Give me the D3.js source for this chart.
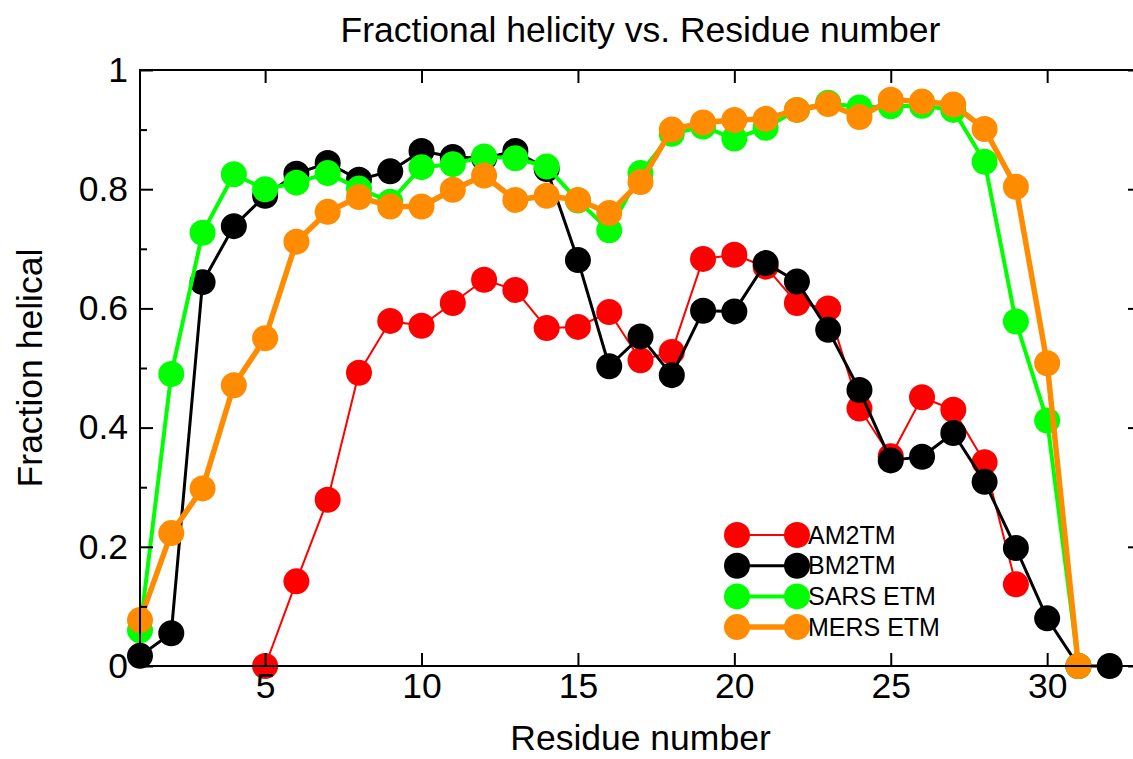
<!DOCTYPE html>
<html>
<head>
<meta charset="utf-8">
<script src="https://cdn.jsdelivr.net/npm/d3@7"></script>
<style>
  body { margin: 0; background: #fff; }
  text { font-family: "Liberation Sans", Arial, Helvetica, sans-serif; fill: #000; }
</style>
</head>
<body>
<div id="chart"></div>
<script>
// data
var am2tmRes = [5,6,7,8,9,10,11,12,13,14,15,16,17,18,19,20,21,22,23,24,25,26,27,28,29];
var am2tm = [0, 0.142, 0.279, 0.492, 0.579, 0.571, 0.609, 0.648, 0.631, 0.567, 0.569, 0.594, 0.513,
  0.527, 0.683, 0.690, 0.670, 0.609, 0.600, 0.432, 0.352, 0.451, 0.430, 0.342, 0.137];

var bm2tmRes = [1,2,3,4,5,6,7,8,9,10,11,12,13,14,15,16,17,18,19,20,21,22,23,24,25,26,27,28,29,30,31,32];
var bm2tm = [0.017, 0.055, 0.644, 0.738, 0.789, 0.826, 0.844, 0.816, 0.830, 0.864, 0.854, 0.852, 0.864,
  0.834, 0.681, 0.503, 0.553, 0.488, 0.596, 0.595, 0.676, 0.645, 0.564, 0.463, 0.345, 0.351, 0.391,
  0.309, 0.198, 0.080, 0, 0];

var sarsRes = [1,2,3,4,5,6,7,8,9,10,11,12,13,14,15,16,17,18,19,20,21,22,23,24,25,26,27,28,29,30,31];
var sars = [0.060, 0.490, 0.727, 0.825, 0.800, 0.811, 0.827, 0.801, 0.779, 0.837, 0.842, 0.855, 0.852,
  0.838, 0.781, 0.731, 0.827, 0.893, 0.905, 0.885, 0.903, 0.933, 0.945, 0.937, 0.939, 0.940, 0.933,
  0.846, 0.578, 0.412, 0];

var mersRes = [1,2,3,4,5,6,7,8,9,10,11,12,13,14,15,16,17,18,19,20,21,22,23,24,25,26,27,28,29,30,31];
var mers = [0.077, 0.223, 0.298, 0.471, 0.550, 0.712, 0.762, 0.787, 0.771, 0.771, 0.799, 0.823, 0.782,
  0.789, 0.782, 0.760, 0.812, 0.900, 0.912, 0.916, 0.918, 0.933, 0.943, 0.921, 0.950, 0.947, 0.942,
  0.901, 0.804, 0.508, 0];

var seriesNames = ["AM2TM", "BM2TM", "SARS ETM", "MERS ETM"];
var seriesColors = ["#ff0000", "#000000", "#00ff00", "#ff8c00"];
var seriesWidths = [2, 3, 4, 5.5];

var xTicks = [5, 10, 15, 20, 25, 30];
var yTicks = [0, 0.2, 0.4, 0.6, 0.8, 1];
var yMinorTicks = [0.1, 0.3, 0.5, 0.7, 0.9];

var series = [
  { res: am2tmRes, val: am2tm },
  { res: bm2tmRes, val: bm2tm },
  { res: sarsRes, val: sars },
  { res: mersRes, val: mers }
];

// dimensions (right edge of the frame falls just outside the picture)
var W = 1133, H = 759;
var plotLeft = 140, plotRight = 1141, plotTop = 70, plotBottom = 666;

var svg = d3.select("#chart")
  .append("svg")
    .attr("width", W)
    .attr("height", H);

var x = d3.scaleLinear().domain([1, 33]).range([plotLeft, plotRight]);
var y = d3.scaleLinear().domain([0, 1]).range([plotBottom, plotTop]);

// lines and points
var line = d3.line()
  .x(function(d) { return x(d[0]); })
  .y(function(d) { return y(d[1]); });

series.forEach(function(s, i) {
  var pts = s.res.map(function(r, j) { return [r, s.val[j]]; });
  var g = svg.append("g");
  g.append("path")
    .datum(pts)
    .attr("d", line)
    .attr("fill", "none")
    .attr("stroke", seriesColors[i])
    .attr("stroke-width", seriesWidths[i])
    .attr("stroke-linejoin", "round");
  g.selectAll("circle")
    .data(pts)
    .enter()
    .append("circle")
      .attr("cx", function(d) { return x(d[0]); })
      .attr("cy", function(d) { return y(d[1]); })
      .attr("r", 13)
      .attr("fill", seriesColors[i]);
});

// axes (ticks inside, mirrored)
var axisFont = "35.5px";

svg.append("g")
  .attr("transform", "translate(0," + plotBottom + ")")
  .call(d3.axisBottom(x).tickValues(xTicks).tickSize(-13).tickFormat(d3.format("d")))
  .call(function(g) {
    g.select(".domain").remove();
    g.selectAll(".tick line").attr("stroke-width", 2);
    g.selectAll("text").style("font-size", axisFont).attr("dy", "0.71em").attr("y", 7);
  });

svg.append("g")
  .attr("transform", "translate(0," + plotTop + ")")
  .call(d3.axisTop(x).tickValues(xTicks).tickSize(-13).tickFormat(""))
  .call(function(g) {
    g.select(".domain").remove();
    g.selectAll(".tick line").attr("stroke-width", 2);
  });

svg.append("g")
  .attr("transform", "translate(" + plotLeft + ",0)")
  .call(d3.axisLeft(y).tickValues(yTicks).tickSize(-13).tickFormat(d3.format("")))
  .call(function(g) {
    g.select(".domain").remove();
    g.selectAll(".tick line").attr("stroke-width", 2);
    g.selectAll("text").style("font-size", axisFont).attr("x", -12);
  });

svg.append("g")
  .attr("transform", "translate(" + plotLeft + ",0)")
  .call(d3.axisLeft(y).tickValues(yMinorTicks).tickSize(-7).tickFormat(""))
  .call(function(g) {
    g.select(".domain").remove();
    g.selectAll(".tick line").attr("stroke-width", 2);
  });

svg.append("g")
  .attr("transform", "translate(" + plotRight + ",0)")
  .call(d3.axisRight(y).tickValues(yTicks).tickSize(-13).tickFormat(""))
  .call(function(g) {
    g.select(".domain").remove();
    g.selectAll(".tick line").attr("stroke-width", 2);
  });

// border
svg.append("rect")
  .attr("x", plotLeft)
  .attr("y", plotTop)
  .attr("width", plotRight - plotLeft)
  .attr("height", plotBottom - plotTop)
  .attr("fill", "none")
  .attr("stroke", "#000")
  .attr("stroke-width", 2);

// titles
svg.append("text")
  .attr("x", (plotLeft + plotRight) / 2)
  .attr("y", 42)
  .attr("text-anchor", "middle")
  .style("font-size", axisFont)
  .text("Fractional helicity vs. Residue number");

svg.append("text")
  .attr("x", (plotLeft + plotRight) / 2)
  .attr("y", 750)
  .attr("text-anchor", "middle")
  .style("font-size", axisFont)
  .text("Residue number");

svg.append("text")
  .attr("transform", "translate(42," + (plotTop + plotBottom) / 2 + ") rotate(-90)")
  .attr("text-anchor", "middle")
  .style("font-size", axisFont)
  .text("Fraction helical");

// legend
var legend = svg.append("g");
seriesNames.forEach(function(name, i) {
  var cy = 535 + i * 30.7;
  legend.append("line")
    .attr("x1", 737).attr("x2", 797)
    .attr("y1", cy).attr("y2", cy)
    .attr("stroke", seriesColors[i])
    .attr("stroke-width", seriesWidths[i]);
  [737, 797].forEach(function(cx) {
    legend.append("circle")
      .attr("cx", cx).attr("cy", cy).attr("r", 13)
      .attr("fill", seriesColors[i]);
  });
  legend.append("text")
    .attr("x", 808)
    .attr("y", cy + 8.5)
    .style("font-size", "25px")
    .text(name);
});
</script>
</body>
</html>
